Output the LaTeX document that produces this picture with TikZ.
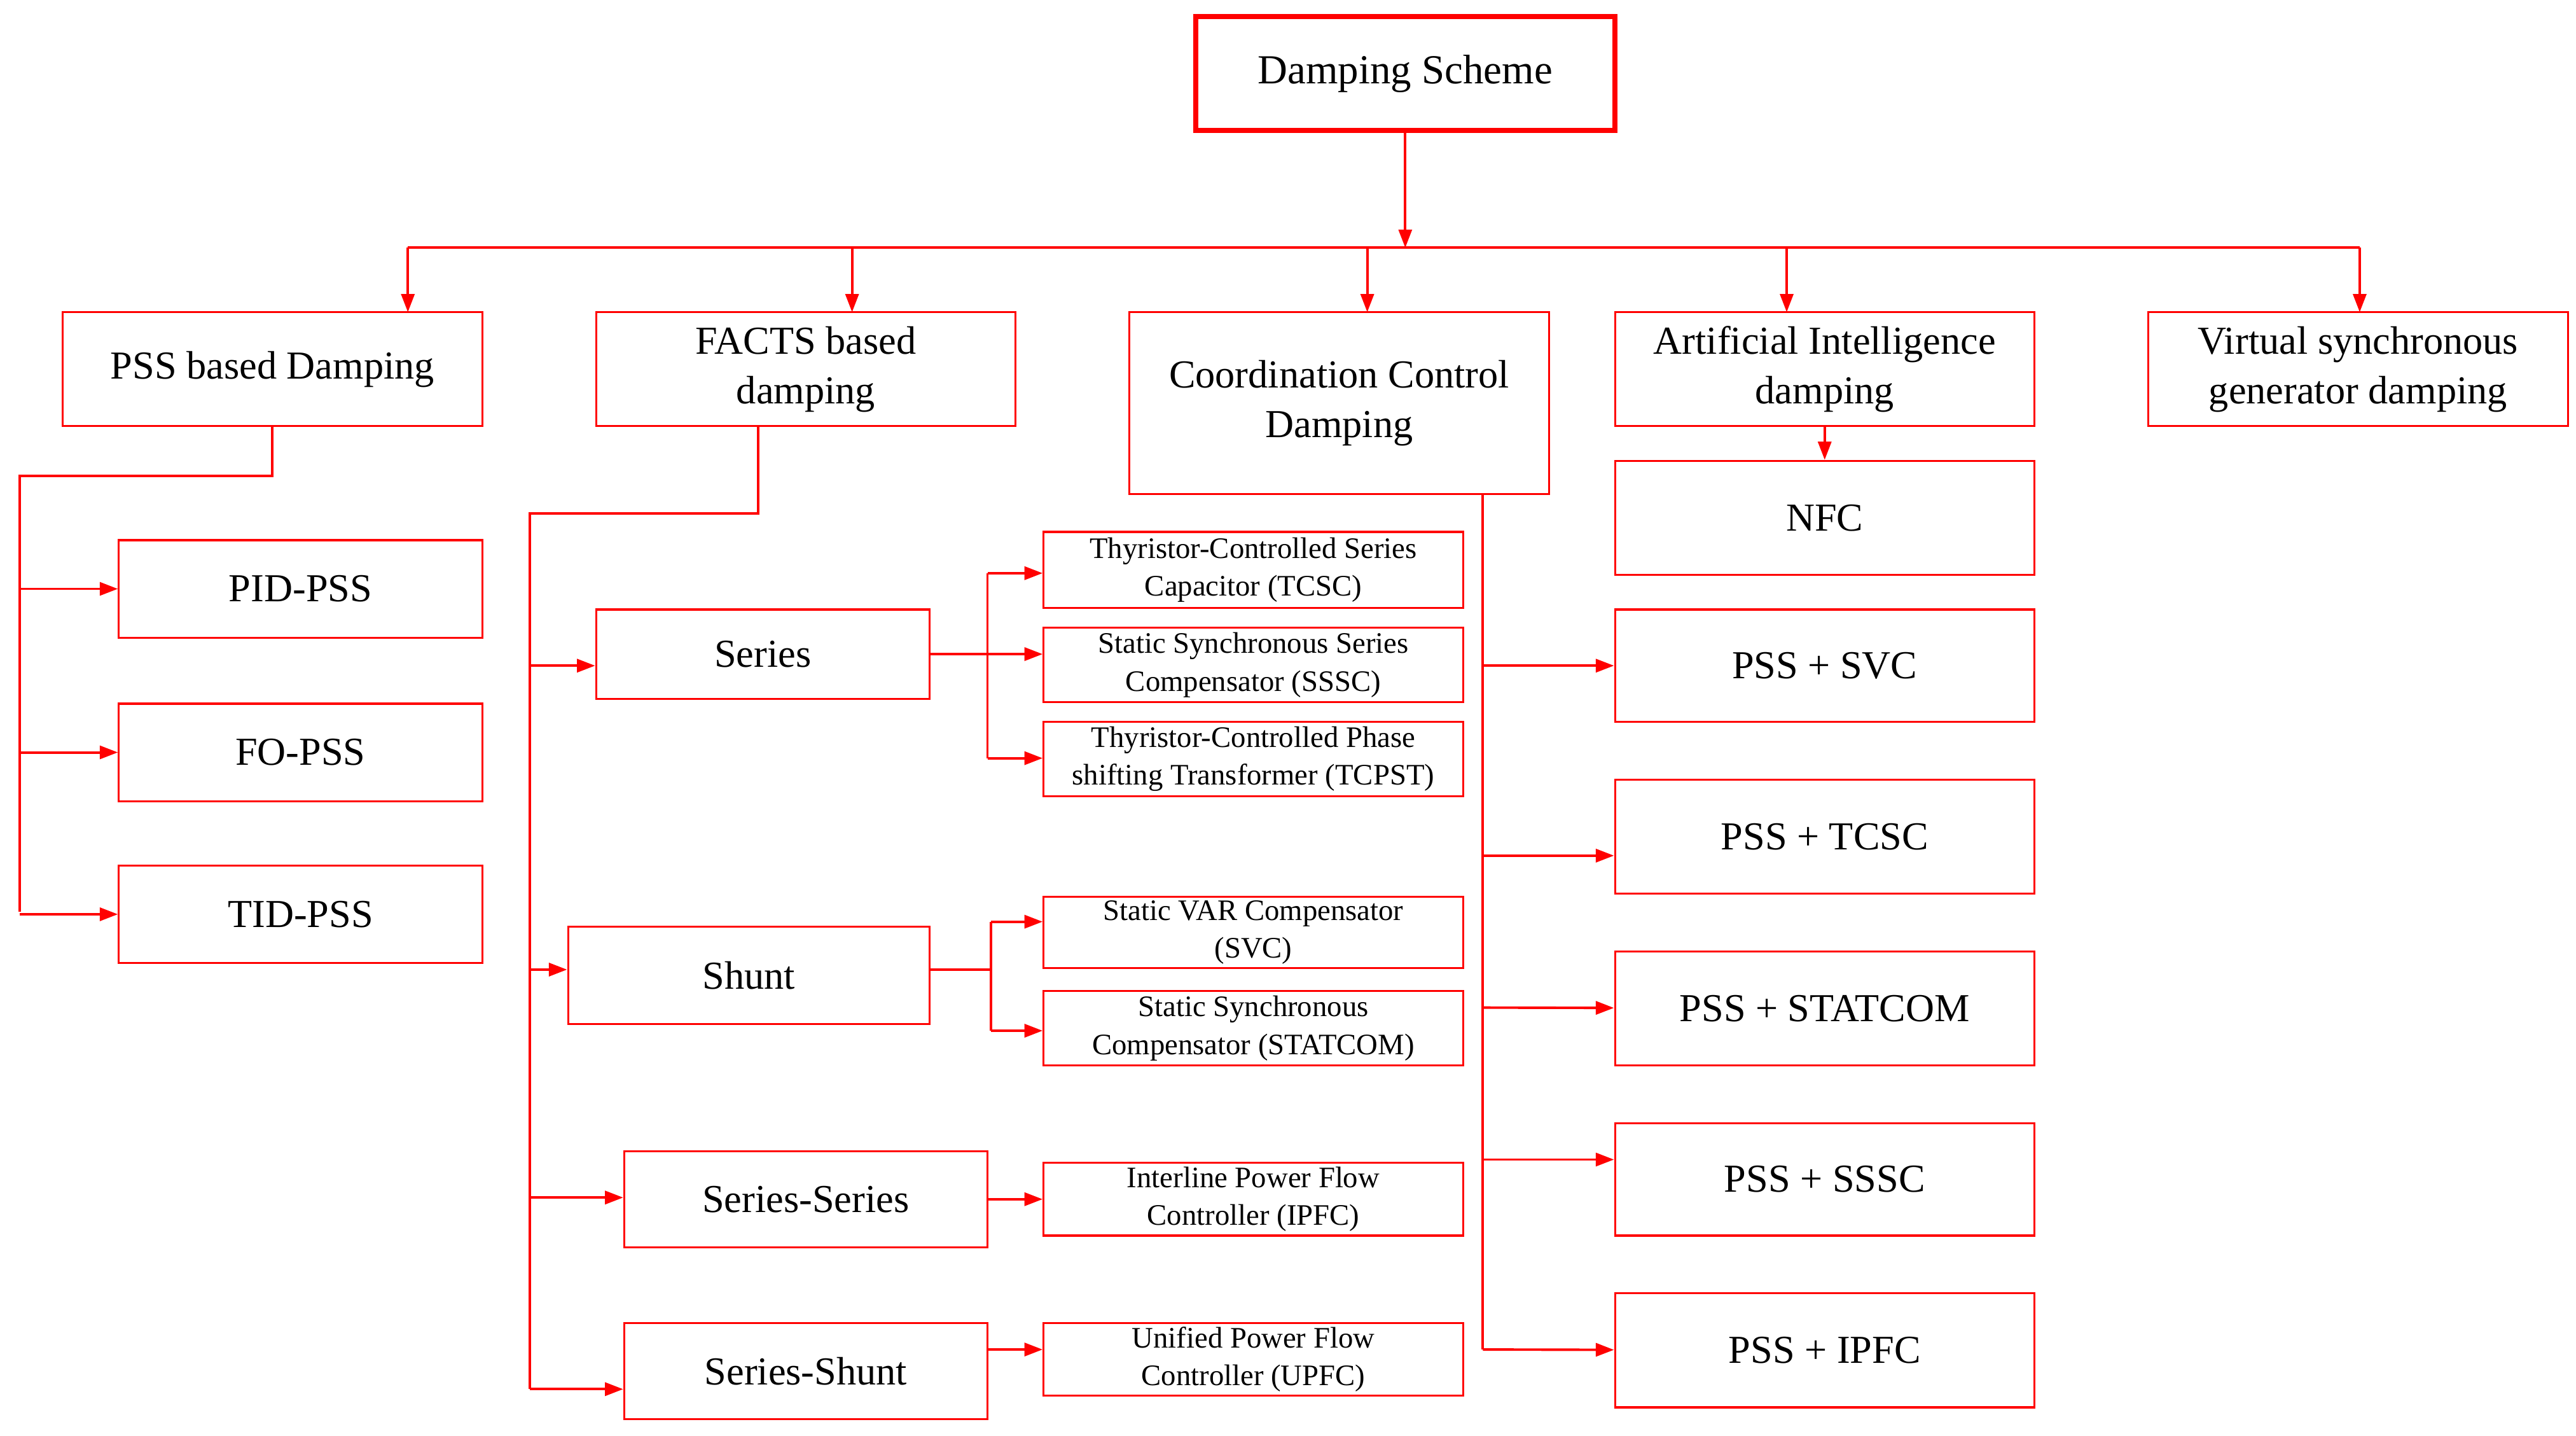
\documentclass[tikz,border=0pt]{standalone}
\usepackage{fontspec}
\setmainfont{Liberation Serif}
\usetikzlibrary{arrows.meta, positioning}

\begin{document}
\begin{tikzpicture}[x=1pt, y=-1pt,
	box/.style={rectangle, draw=red, line width=1.2pt, fill=white, align=center, inner sep=0pt, font=\fontsize{24}{30}\selectfont},
	sbox/.style={box, minimum width=254pt, minimum height=45pt, font=\fontsize{18}{23}\selectfont},
	wire/.style={red, line width=1.5pt},
	link/.style={wire, -{Triangle[length=11pt, width=8pt]}}]
\useasboundingbox (0,0) rectangle (1560,869);

% Nodes
\node[box, line width=3pt, minimum width=254pt, minimum height=69pt, font=\fontsize{25}{30}\selectfont] (root) at (851,44.5) {Damping Scheme};

\node[box, minimum width=254pt, minimum height=69pt] (pss) at (165,223.5) {PSS based Damping};
\node[box, minimum width=254pt, minimum height=69pt] (facts) at (488,223.5) {FACTS based\\damping};
\node[box, minimum width=254pt, minimum height=110pt] (coord) at (811,244) {Coordination Control\\Damping};
\node[box, minimum width=254pt, minimum height=69pt] (ai) at (1105,223.5) {Artificial Intelligence\\damping};
\node[box, minimum width=254pt, minimum height=69pt] (vsg) at (1428,223.5) {Virtual synchronous\\generator damping};

% PSS branch
\node[box, minimum width=220pt, minimum height=59pt] (pid) at (182,356.5) {PID-PSS};
\node[box, minimum width=220pt, minimum height=59pt] (fo) at (182,455.5) {FO-PSS};
\node[box, minimum width=220pt, minimum height=59pt] (tid) at (182,553.5) {TID-PSS};

% FACTS branch
\node[box, minimum width=202pt, minimum height=54pt] (series) at (462,396) {Series};
\node[box, minimum width=219pt, minimum height=59pt] (shunt) at (453.5,590.5) {Shunt};
\node[box, minimum width=220pt, minimum height=58pt] (serser) at (488,726) {Series-Series};
\node[box, minimum width=220pt, minimum height=58pt] (sershu) at (488,830) {Series-Shunt};

\node[sbox, minimum height=46pt] (tcsc) at (759,345) {Thyristor-Controlled Series\\Capacitor (TCSC)};
\node[sbox] (sssc) at (759,402.5) {Static Synchronous Series\\Compensator (SSSC)};
\node[sbox] (tcpst) at (759,459.5) {Thyristor-Controlled Phase\\shifting Transformer (TCPST)};
\node[sbox, minimum height=43pt] (svc) at (759,564.5) {Static VAR Compensator\\(SVC)};
\node[sbox] (statcom) at (759,622.5) {Static Synchronous\\Compensator (STATCOM)};
\node[sbox, minimum height=44pt] (ipfc) at (759,726) {Interline Power Flow\\Controller (IPFC)};
\node[sbox, minimum height=44pt] (upfc) at (759,823) {Unified Power Flow\\Controller (UPFC)};

% Coordination and AI branch
\node[box, minimum width=254pt, minimum height=69pt] (nfc) at (1105,313.5) {NFC};
\node[box, minimum width=254pt, minimum height=68pt] (psvc) at (1105,403) {PSS + SVC};
\node[box, minimum width=254pt, minimum height=69pt] (ptcsc) at (1105,506.5) {PSS + TCSC};
\node[box, minimum width=254pt, minimum height=69pt] (pstat) at (1105,610.5) {PSS + STATCOM};
\node[box, minimum width=254pt, minimum height=68pt] (psssc) at (1105,714) {PSS + SSSC};
\node[box, minimum width=254pt, minimum height=69pt] (pipfc) at (1105,817.5) {PSS + IPFC};

% Junctions
\coordinate (bus) at (851,150);
\coordinate (pssL) at (12,288);
\coordinate (factsL) at (321,311);
\coordinate (serJ) at (598,396);
\coordinate (shuJ) at (600,587);
\coordinate (coordJ) at (898,299);

% Connections
\draw[link] (root) -- (bus);
\draw[wire] (247,150) -- (1429,150);
\foreach \x/\n in {247/pss, 516/facts, 828/coord, 1082/ai, 1429/vsg}
	\draw[link] (\x,150) -- (\x,189);
\draw[link] (ai) -- (nfc);

\draw[wire] (pss.south) |- (pssL) -- (12,552);
\foreach \n in {pid, fo, tid}
	\draw[link] (pssL |- \n) -- (\n);

\draw[wire] (459,258) |- (factsL) -- (321,841);
\draw[link] (321,403) -- (series.west |- 0,403);
\draw[link] (321,587) -- (shunt.west |- 0,587);
\draw[link] (321,725) -- (serser.west |- 0,725);
\draw[link] (321,841) -- (sershu.west |- 0,841);

\draw[wire] (series) -- (serJ);
\draw[wire] (598,347) -- (598,459);
\draw[link] (598,347) -- (tcsc.west |- 0,347);
\draw[link] (serJ) -- (sssc.west |- serJ);
\draw[link] (598,459) -- (tcpst.west |- 0,459);
\draw[wire] (shuJ -| shunt.east) -- (shuJ);
\draw[wire] (600,558) -- (600,624);
\draw[link] (600,558) -- (svc.west |- 0,558);
\draw[link] (600,624) -- (statcom.west |- 0,624);
\draw[link] (serser) -- (ipfc.west |- serser);
\draw[link] (sershu.east |- 0,817) -- (upfc.west |- 0,817);

\draw[wire] (coordJ) -- (898,817);
\draw[link] (898,403) -- (psvc);
\draw[link] (898,518) -- (ptcsc.west |- 0,518);
\draw[link] (898,610) -- (pstat);
\draw[link] (898,702) -- (psssc.west |- 0,702);
\draw[link] (898,817) -- (pipfc);
\end{tikzpicture}
\end{document}
